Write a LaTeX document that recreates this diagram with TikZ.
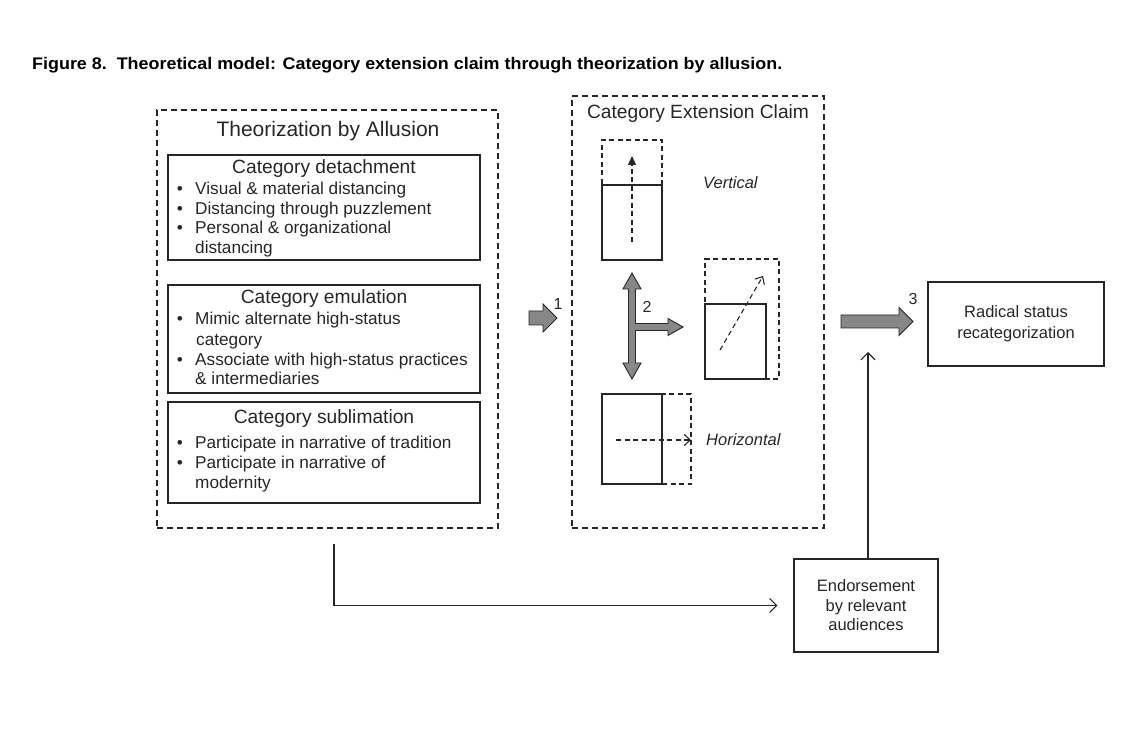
\documentclass[tikz,border=0pt]{standalone}
\usepackage{fontspec}
\setmainfont{Liberation Sans}
\usepackage{graphicx}
\usetikzlibrary{arrows.meta}
\definecolor{ink}{HTML}{262626}
\definecolor{arrowgray}{HTML}{878787}
\begin{document}
\begin{tikzpicture}[x=1pt,y=-1pt,
 conn/.style={draw=ink, line width=1.1pt},
 solidbox/.style={draw=ink, line width=1.3pt, inner sep=0pt},
 dbox/.style={draw=ink, line width=1.2pt, dash pattern=on 6pt off 4pt, inner sep=0pt},
 sdash/.style={draw=ink, line width=1.1pt, dash pattern=on 5pt off 3.5pt},
 blk/.style={fill=arrowgray, draw=ink, line width=0.9pt, line join=miter},
 bul/.style={anchor=mid, font=\fontsize{17.2}{20}\selectfont, inner sep=0pt, text=ink, yshift=-2.5pt},
 itm/.style={anchor=mid west, font=\fontsize{17.2}{20}\selectfont, inner sep=0pt, text=ink, yshift=-2.5pt},
 hd/.style={anchor=mid, font=\fontsize{19.2}{22}\selectfont, inner sep=0pt, text=ink, yshift=-3pt},
 ttl/.style={anchor=mid, font=\fontsize{21}{24}\selectfont, inner sep=0pt, text=ink, yshift=-3pt},
 lbl/.style={anchor=mid, font=\fontsize{16}{19}\selectfont, inner sep=0pt, text=ink, yshift=-2.5pt},
 ital/.style={anchor=mid west, font=\fontsize{16.5}{19}\selectfont\itshape, inner sep=0pt, text=ink, yshift=-2.5pt},
 barb/.style={-{Straight Barb[length=7pt,width=14pt]}},
 sbarb/.style={-{Straight Barb[length=6pt,width=11pt]}},
]
\useasboundingbox (0,0) rectangle (1141,735);

% caption
\node[anchor=base west, inner sep=0pt] (cap) at (32,70)
 {\resizebox{750pt}{\height}{\fontsize{16.8}{20}\selectfont\bfseries Figure 8.\ \ Theoretical model: Category extension claim through theorization by allusion.}};

% ---------- left dashed box ----------
\node[dbox, minimum width=341pt, minimum height=418pt] (L) at (327.5,319) {};
\node[ttl] (Lt) at (328,131) {Theorization by Allusion};

\node[solidbox, minimum width=312pt, minimum height=105pt] (D) at (324,207.5) {};
\node[hd] (Dh) at (324,168) {Category detachment};
\node[bul] (Db1) at (180,189) {•};
\node[itm] (Dt1) at (195,189) {Visual \& material distancing};
\node[bul] (Db2) at (180,209) {•};
\node[itm] (Dt2) at (195,209) {Distancing through puzzlement};
\node[bul] (Db3) at (180,228) {•};
\node[itm] (Dt3) at (195,228) {Personal \& organizational};
\node[itm] (Dt4) at (195,248) {distancing};

\node[solidbox, minimum width=312pt, minimum height=108pt] (E) at (324,339) {};
\node[hd] (Eh) at (324,298) {Category emulation};
\node[bul] (Eb1) at (180,319) {•};
\node[itm] (Et1) at (195,319) {Mimic alternate high-status};
\node[itm] (Et2) at (196,340) {category};
\node[bul] (Eb2) at (180,360) {•};
\node[itm] (Et3) at (195,360) {Associate with high-status practices};
\node[itm] (Et4) at (195,379) {\& intermediaries};

\node[solidbox, minimum width=312pt, minimum height=101pt] (S) at (324,452.5) {};
\node[hd] (Sh) at (324,418) {Category sublimation};
\node[bul] (Sb1) at (180,443) {•};
\node[itm] (St1) at (195,443) {Participate in narrative of tradition};
\node[bul] (Sb2) at (180,463) {•};
\node[itm] (St2) at (195,463) {Participate in narrative of};
\node[itm] (St3) at (195,483) {modernity};

% ---------- arrow 1 ----------
\draw[blk] (529,311) -- (543,311) -- (543,304) -- (557,318) -- (543,332) -- (543,325) -- (529,325) -- cycle;
\node[lbl] (n1) at (558,304) {1};

% ---------- middle dashed box ----------
\node[dbox, minimum width=252pt, minimum height=432pt] (M) at (698,312) {};
\node[hd] (Mt) at (698,113) {Category Extension Claim};

% vertical
\node[sdash, inner sep=0pt, minimum width=60pt, minimum height=45pt] (V2) at (632,162.5) {};
\node[solidbox, minimum width=60pt, minimum height=75pt] (V1) at (632,222.5) {};
\coordinate (va) at (632,242);
\coordinate (vb) at (632,156);
\draw[sdash, -{Triangle[length=9pt,width=8pt]}] (va) -- (vb);
\node[ital] (Vt) at (703,183) {Vertical};

% diagonal
\node[sdash, inner sep=0pt, minimum width=74pt, minimum height=120pt] (Q2) at (742,319) {};
\node[solidbox, fill=white, minimum width=61pt, minimum height=75pt] (Q1) at (735.5,341.5) {};
\coordinate (qa) at (720,350);
\coordinate (qb) at (763,276);
\draw[sdash, sbarb] (qa) -- (qb);

% horizontal
\node[sdash, inner sep=0pt, minimum width=29pt, minimum height=90pt] (H2) at (676.5,439) {};
\node[solidbox, minimum width=60pt, minimum height=90pt] (H1) at (632,439) {};
\coordinate (ha) at (616,440);
\coordinate (hb) at (691,440);
\draw[sdash, sbarb] (ha) -- (hb);
\node[ital] (Ht) at (706,440) {Horizontal};

% T arrow (2)
\draw[blk] (632,273) -- (641,289) -- (635.5,289) -- (635.5,323.5) -- (668,323.5) -- (668,318.5)
  -- (683,327) -- (668,335.5) -- (668,330.5) -- (635.5,330.5) -- (635.5,363) -- (641,363)
  -- (632,379) -- (623,363) -- (628.5,363) -- (628.5,289) -- (623,289) -- cycle;
\node[lbl] (n2) at (647,307) {2};

% ---------- arrow 3 ----------
\draw[blk] (841,315) -- (899,315) -- (899,307.5) -- (913,321.5) -- (899,335.5) -- (899,328) -- (841,328) -- cycle;
\node[lbl] (n3) at (913,299) {3};

% ---------- right boxes ----------
\node[solidbox, minimum width=176pt, minimum height=84pt, align=center,
      font=\fontsize{16.5}{21}\selectfont, text=ink] (R) at (1016,324)
      {Radical status\\recategorization};
\node[solidbox, minimum width=144pt, minimum height=93pt, align=center,
      font=\fontsize{16.5}{19.5}\selectfont, text=ink] (En) at (866,605.5)
      {Endorsement\\by relevant\\audiences};

% ---------- connectors ----------
\coordinate (Lout) at (334,544);
\draw[conn, barb, shorten >=16pt] (Lout) |- (En.west);
\coordinate (A3in) at (868,352);
\draw[conn, barb] (En.north -| A3in) -- (A3in);
\end{tikzpicture}
\end{document}
